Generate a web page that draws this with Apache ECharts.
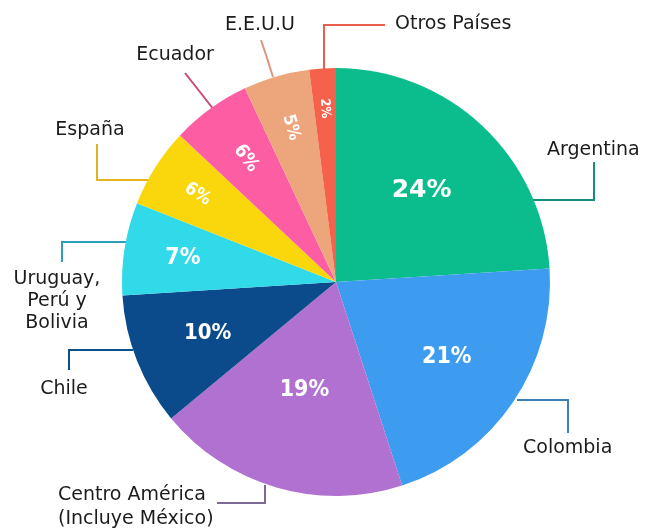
<!DOCTYPE html>
<html>
<head>
<meta charset="utf-8">
<script src="https://cdn.jsdelivr.net/npm/echarts@6/dist/echarts.min.js"></script>
<style>
    html, body { margin: 0; padding: 0; background: #fff; }
    #main { width: 655px; height: 528px; }
</style>
</head>
<body>
<div id="main"></div>
<script>
"use strict";
// 数据
var countries = ['Argentina', 'Colombia', 'Centro América\n(Incluye México)', 'Chile', 'Uruguay,\nPerú y\nBolivia', 'España', 'Ecuador', 'E.E.U.U', 'Otros Países'];
var shares = [24, 21, 19, 10, 7, 6, 6, 5, 2];
var sliceColors = ['#0bbd8c', '#3d9cf0', '#b071d1', '#0c4b8b', '#30dae8', '#fad60c', '#fd5da3', '#eda57c', '#f5614a'];
var lineColors = ['#138f7d', '#3a7fb5', '#7b6b95', '#0c4f8a', '#2a9fb8', '#e3b31e', '#c84a78', '#e0957a', '#e8604c'];

// 饼图位置
var pieCenter = [336, 282];
var pieRadius = 214;

// 内部百分比标签: 离圆心距离 / 字号 / 是否径向旋转
var innerDist = [125, 134, 113, 138, 155, 164, 153, 161, 174];
var innerSize = [25, 23, 23, 22, 23, 18, 19, 17, 13];
var innerRadial = [false, false, false, false, false, true, true, true, true];

// 外部名称标签位置及引线
var outerLabels = [
    {x: 547, y: 150, align: 'left', line: [[533, 200], [594, 200], [594, 162]]},
    {x: 523, y: 448, align: 'left', line: [[517, 400], [568, 400], [568, 433]]},
    {x: 58, y: 507, align: 'left', lh: 24, line: [[217, 503], [265, 503], [265, 485]]},
    {x: 64, y: 389, align: 'center', line: [[133, 350], [69, 350], [69, 370]]},
    {x: 57, y: 301, align: 'center', line: [[128, 242], [62, 242], [62, 262]]},
    {x: 90, y: 130, align: 'center', line: [[150, 180], [97, 180], [97, 144]]},
    {x: 175, y: 55, align: 'center', line: [[214, 110], [200, 92], [185, 73]]},
    {x: 260, y: 25, align: 'center', line: [[273, 77], [267, 58], [261, 40]]},
    {x: 395, y: 24, align: 'left', line: [[324, 72], [324, 25], [385, 25]]}
];

var myChart = echarts.init(document.getElementById('main'));

var innerData = countries.map(function (name, i) {
    return {
        name: name,
        value: shares[i],
        itemStyle: {color: sliceColors[i]},
        label: {
            fontSize: innerSize[i],
            fontFamily: i === 0 ? 'DejaVu Sans' : '"DejaVu Sans Condensed", "DejaVu Sans"',
            rotate: innerRadial[i] ? 'radial' : 0
        }
    };
});

var outerData = countries.map(function (name, i) {
    return {
        name: name,
        value: shares[i],
        label: {lineHeight: outerLabels[i].lh || 22},
        labelLine: {lineStyle: {color: lineColors[i]}}
    };
});

var option = {
    animation: false,
    series: [
        {
            type: 'pie',
            center: pieCenter,
            radius: pieRadius,
            startAngle: 90,
            clockwise: true,
            silent: true,
            itemStyle: {borderWidth: 0},
            label: {
                show: true,
                position: 'inside',
                color: '#fff',
                fontWeight: 'bold',
                formatter: '{c}%'
            },
            labelLine: {show: false},
            labelLayout: function (params) {
                var r = params.labelRect;
                var cx = r.x + r.width / 2 - pieCenter[0];
                var cy = r.y + r.height / 2 - pieCenter[1];
                var len = Math.sqrt(cx * cx + cy * cy) || 1;
                var k = innerDist[params.dataIndex] / len;
                return {x: pieCenter[0] + cx * k, y: pieCenter[1] + cy * k};
            },
            data: innerData
        },
        {
            type: 'pie',
            center: pieCenter,
            radius: pieRadius,
            startAngle: 90,
            clockwise: true,
            silent: true,
            avoidLabelOverlap: false,
            itemStyle: {color: 'rgba(0,0,0,0)'},
            label: {
                show: true,
                position: 'outside',
                color: '#1c1c1c',
                fontSize: 19,
                lineHeight: 22,
                fontFamily: 'DejaVu Sans',
                overflow: 'none',
                formatter: '{b}'
            },
            labelLine: {show: true, lineStyle: {width: 2}},
            labelLayout: function (params) {
                var o = outerLabels[params.dataIndex];
                return {
                    x: o.x,
                    y: o.y,
                    align: o.align,
                    verticalAlign: 'middle',
                    labelLinePoints: o.line
                };
            },
            data: outerData
        }
    ]
};
myChart.setOption(option);
</script>
</body>
</html>
